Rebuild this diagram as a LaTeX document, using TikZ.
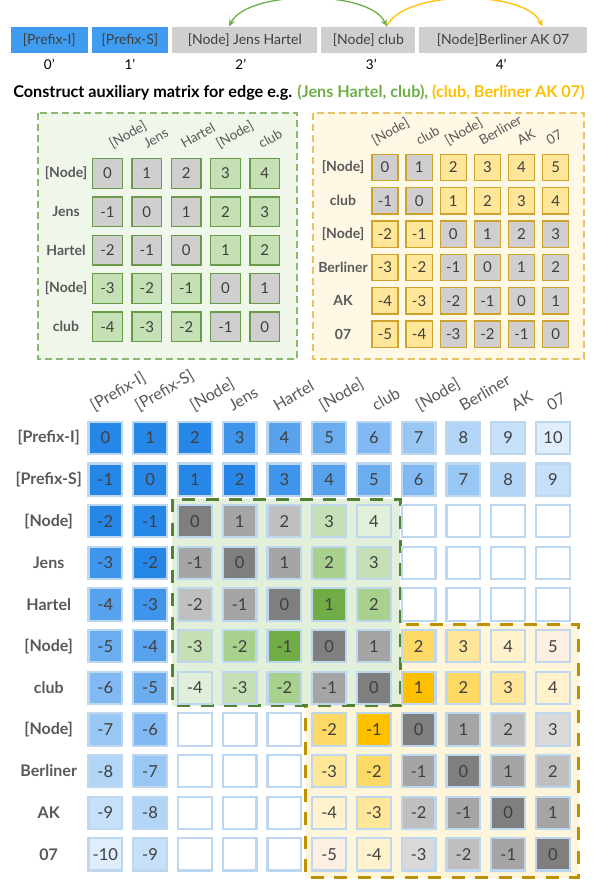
\documentclass[tikz,border=0pt]{standalone}
\usepackage{fontspec}
\setmainfont{Lato}
\usetikzlibrary{positioning, arrows.meta}

% text colours
\definecolor{txt}{HTML}{3F3F3F}
\definecolor{lbl}{HTML}{595959}
% token bar
\definecolor{pblue}{HTML}{409CF0}
\definecolor{pgray}{HTML}{D0CECE}
\definecolor{arrgreen}{HTML}{70AD47}
\definecolor{arryellow}{HTML}{FFC000}
% small matrices
\definecolor{sgfill}{HTML}{EFF6EA}
\definecolor{sgdash}{HTML}{8DB96C}
\definecolor{sgline}{HTML}{6A9C47}
\definecolor{sgcell}{HTML}{C5E0B4}
\definecolor{syfill}{HTML}{FFF8E4}
\definecolor{sydash}{HTML}{E6C466}
\definecolor{syline}{HTML}{CDA32E}
\definecolor{sycell}{HTML}{FFE699}
\definecolor{cgray}{HTML}{D0CECE}
% big matrix
\definecolor{cellline}{HTML}{BDD7EE}
\definecolor{regg}{HTML}{548235}
\definecolor{reggfill}{HTML}{E2EFDA}
\definecolor{regy}{HTML}{BF9000}
\definecolor{regyfill}{HTML}{FFF5DA}
\definecolor{gr0}{HTML}{7F7F7F}
\definecolor{gr1}{HTML}{A5A5A5}
\definecolor{gr2}{HTML}{BFBFBF}
\definecolor{gr3}{HTML}{D9D9D9}
\definecolor{gn1}{HTML}{70AD47}
\definecolor{gn2}{HTML}{A9D18E}
\definecolor{gn3}{HTML}{C5E0B4}
\definecolor{gn4}{HTML}{E2F0D9}
\definecolor{ye1}{HTML}{FFC000}
\definecolor{ye2}{HTML}{FFD966}
\definecolor{ye3}{HTML}{FFE699}
\definecolor{ye4}{HTML}{FFF2CC}
\definecolor{ye5}{HTML}{FDF0E2}
\definecolor{blbase}{HTML}{2787E8}
\colorlet{bl0}{blbase}
\colorlet{bl1}{blbase}
\colorlet{bl2}{blbase}
\colorlet{bl3}{blbase!89!white}
\colorlet{bl4}{blbase!78!white}
\colorlet{bl5}{blbase!68!white}
\colorlet{bl6}{blbase!58!white}
\colorlet{bl7}{blbase!47!white}
\colorlet{bl8}{blbase!36!white}
\colorlet{bl9}{blbase!26!white}
\colorlet{bl10}{blbase!15!white}
\colorlet{wh}{white}

\begin{document}
\begin{tikzpicture}[
    x=1pt, y=-1pt,
    node distance=3.5pt,
    topbox/.style={minimum height=26pt, inner sep=0pt, text=txt,
        font=\fontsize{14}{16}\selectfont},
    idx/.style={inner sep=1pt, text=black, font=\fontsize{13.5}{15}\selectfont},
    arrow/.style={line width=1.3pt, -{Stealth[length=7pt, width=6pt]}},
    % small matrices
    gcell/.style={draw=sgline, line width=1.2pt, minimum width=29.8pt,
        minimum height=29.8pt, inner sep=0pt, text=txt,
        font=\fontsize{15}{17}\selectfont},
    ycell/.style={draw=syline, line width=1.2pt, minimum width=26.1pt,
        minimum height=26.5pt, inner sep=0pt, text=txt,
        font=\fontsize{15}{17}\selectfont},
    rowlab/.style={text=lbl, inner sep=0pt, font=\bfseries\fontsize{14}{16}\selectfont},
    collab/.style={text=lbl, rotate=30, anchor=base west, inner sep=0pt,
        font=\fontsize{13.5}{15}\selectfont},
    % big matrix
    bigcell/.style={draw=cellline, line width=2.2pt, minimum width=33.8pt,
        minimum height=32.3pt, inner sep=0pt, text=txt,
        font=\fontsize{16.5}{18}\selectfont},
    bigrow/.style={text=lbl, inner sep=0pt, font=\bfseries\fontsize{16}{18}\selectfont},
    bigcol/.style={text=lbl, rotate=30, anchor=base west, inner sep=0pt,
        font=\fontsize{16}{18}\selectfont},
    region/.style={line width=3pt, dash pattern=on 13pt off 10.5pt}
]
    \useasboundingbox (0,0) rectangle (598,883);

    % Token sequence
    \node (pi) [topbox, fill=pblue, minimum width=76.7pt] at (49.3,39.7) {[Prefix-I]};
    \node (ps) [topbox, fill=pblue, minimum width=76.7pt, right=of pi] {[Prefix-S]};
    \node (jh) [topbox, fill=pgray, minimum width=145.3pt, right=of ps] {[Node] Jens Hartel};
    \node (cl) [topbox, fill=pgray, minimum width=94pt, right=of jh] {[Node] club};
    \node (be) [topbox, fill=pgray, minimum width=167.7pt, right=of cl] {[Node]Berliner AK 07};

    % Positions
    \node (i0) [idx, below=5pt of pi] {0'};
    \node (i1) [idx, below=5pt of ps] {1'};
    \node (i2) [idx, below=5pt of jh, xshift=-4pt] {2'};
    \node (i3) [idx, below=5pt of cl, xshift=3pt] {3'};
    \node (i4) [idx, below=5pt of be, xshift=-2pt] {4'};

    % Edges
    \coordinate (ga) at ([xshift=-15.7pt]jh.north);
    \coordinate (gb) at ([xshift=18.3pt]cl.north);
    \coordinate (yb) at ([xshift=39.2pt]be.north);
    \draw[arrow, arryellow] (gb) .. controls +(16,-37) and +(-16,-37) .. (yb);
    \draw[arrow, arrgreen, {Stealth[length=7pt, width=6pt]}-{Stealth[length=7pt, width=6pt]}]
        (gb) .. controls +(-16,-37) and +(18,-37) .. (ga);

    \node (cap) [font=\bfseries\fontsize{16.2}{18}\selectfont] at (299,93)
        {Construct auxiliary matrix for edge e.g. \textcolor{arrgreen}{(Jens Hartel, club),}
        \textcolor{arryellow}{(club, Berliner AK 07)}};

    % Auxiliary matrix (Jens Hartel, club)
    \draw[sgdash, fill=sgfill, line width=1.3pt, dash pattern=on 7pt off 4pt]
        (38,113) rectangle (297,359);
    \foreach \row [count=\r from 0] in {
        {0/cgray,1/cgray,2/cgray,3/sgcell,4/sgcell},
        {-1/cgray,0/cgray,1/cgray,2/sgcell,3/sgcell},
        {-2/cgray,-1/cgray,0/cgray,1/sgcell,2/sgcell},
        {-3/sgcell,-2/sgcell,-1/sgcell,0/cgray,1/cgray},
        {-4/sgcell,-3/sgcell,-2/sgcell,-1/cgray,0/cgray}}
        \foreach \v/\f [count=\c from 0] in \row
            \node (g-\r-\c) [gcell, fill=\f] at ({107.5+39.33*\c},{173.5+38.33*\r}) {\v};
    \foreach \t [count=\r from 0] in {{[Node]},Jens,Hartel,{[Node]},club}
        \node (gr\r) [rowlab] at (66,{173.5+38.33*\r}) {\t};
    \foreach \t/\dx [count=\c from 0] in {{[Node]}/5,Jens/0,Hartel/-2,{[Node]}/-6,club/-3}
        \node (gc\c) [collab] at ({107.5+39.33*\c+\dx},149) {\t};

    % Auxiliary matrix (club, Berliner AK 07)
    \draw[sydash, fill=syfill, line width=1.3pt, dash pattern=on 7pt off 4pt]
        (313,113) rectangle (584,359);
    \foreach \row [count=\r from 0] in {
        {0/cgray,1/cgray,2/sycell,3/sycell,4/sycell,5/sycell},
        {-1/cgray,0/cgray,1/sycell,2/sycell,3/sycell,4/sycell},
        {-2/sycell,-1/sycell,0/cgray,1/cgray,2/cgray,3/cgray},
        {-3/sycell,-2/sycell,-1/cgray,0/cgray,1/cgray,2/cgray},
        {-4/sycell,-3/sycell,-2/cgray,-1/cgray,0/cgray,1/cgray},
        {-5/sycell,-4/sycell,-3/cgray,-2/cgray,-1/cgray,0/cgray}}
        \foreach \v/\f [count=\c from 0] in \row
            \node (y-\r-\c) [ycell, fill=\f] at ({385+34.13*\c},{167.5+33.33*\r}) {\v};
    \foreach \t [count=\r from 0] in {{[Node]},club,{[Node]},Berliner,AK,07}
        \node (yr\r) [rowlab] at (343,{167.5+33.33*\r}) {\t};
    \foreach \t/\dx [count=\c from 0] in {{[Node]}/-10,club/0,{[Node]}/-5,Berliner/-5,AK/-1,07/-6}
        \node (yc\c) [collab] at ({385+34.13*\c+\dx},146) {\t};

    % Full matrix with the two edge blocks
    \draw[region, regy, fill=regyfill] (305.7,624) rectangle (578.7,877.7);
    \draw[region, regg, fill=reggfill] (172.3,499) rectangle (400,705.7);
    \foreach \row [count=\r from 0] in {
        {0/bl0,1/bl1,2/bl2,3/bl3,4/bl4,5/bl5,6/bl6,7/bl7,8/bl8,9/bl9,10/bl10},
        {-1/bl1,0/bl0,1/bl1,2/bl2,3/bl3,4/bl4,5/bl5,6/bl6,7/bl7,8/bl8,9/bl9},
        {-2/bl2,-1/bl1,0/gr0,1/gr1,2/gr2,3/gn3,4/gn4,{}/wh,{}/wh,{}/wh,{}/wh},
        {-3/bl3,-2/bl2,-1/gr1,0/gr0,1/gr1,2/gn2,3/gn3,{}/wh,{}/wh,{}/wh,{}/wh},
        {-4/bl4,-3/bl3,-2/gr2,-1/gr1,0/gr0,1/gn1,2/gn2,{}/wh,{}/wh,{}/wh,{}/wh},
        {-5/bl5,-4/bl4,-3/gn3,-2/gn2,-1/gn1,0/gr0,1/gr1,2/ye2,3/ye3,4/ye4,5/ye5},
        {-6/bl6,-5/bl5,-4/gn4,-3/gn3,-2/gn2,-1/gr1,0/gr0,1/ye1,2/ye2,3/ye3,4/ye4},
        {-7/bl7,-6/bl6,{}/wh,{}/wh,{}/wh,-2/ye2,-1/ye1,0/gr0,1/gr1,2/gr2,3/gr3},
        {-8/bl8,-7/bl7,{}/wh,{}/wh,{}/wh,-3/ye3,-2/ye2,-1/gr1,0/gr0,1/gr1,2/gr2},
        {-9/bl9,-8/bl8,{}/wh,{}/wh,{}/wh,-4/ye4,-3/ye3,-2/gr2,-1/gr1,0/gr0,1/gr1},
        {-10/bl10,-9/bl9,{}/wh,{}/wh,{}/wh,-5/ye5,-4/ye4,-3/gr3,-2/gr2,-1/gr1,0/gr0}}
        \foreach \v/\f [count=\c from 0] in \row
            \node (m-\r-\c) [bigcell, fill=\f] at ({105.3+44.77*\c},{437.9+41.65*\r}) {\v};
    \foreach \t [count=\r from 0] in {{[Prefix-I]},{[Prefix-S]},{[Node]},Jens,Hartel,
        {[Node]},club,{[Node]},Berliner,AK,07}
        \node (mr\r) [bigrow] at (48.7,{437.9+41.65*\r}) {\t};
    \foreach \t/\dx [count=\c from 0] in {{[Prefix-I]}/-11,{[Prefix-S]}/-11,{[Node]}/-1,
        Jens/-7,Hartel/-7,{[Node]}/-6,club/2,{[Node]}/1,Berliner/0,AK/7,07/-2}
        \node (mc\c) [bigcol] at ({105.3+44.77*\c+\dx},411.5) {\t};

\end{tikzpicture}
\end{document}
